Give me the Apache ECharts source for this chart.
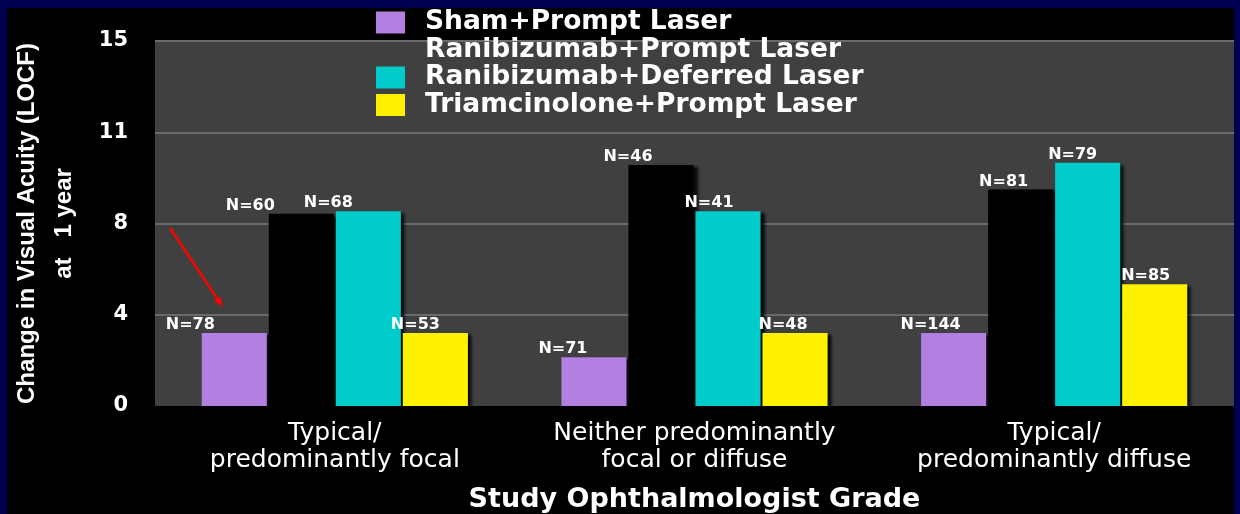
<!DOCTYPE html>
<html>
<head>
<meta charset="utf-8">
<script src="https://cdn.jsdelivr.net/npm/echarts@6/dist/echarts.min.js"></script>
<style>
  html, body { margin: 0; padding: 0; width: 1240px; height: 514px; background: #000050; overflow: hidden; }
  #c { position: absolute; left: 7px; top: 8px; width: 1227px; height: 506px; }
</style>
</head>
<body>
<div id="c"></div>
<script>
// ---- data ----
const categories = ['Typical/\npredominantly focal', 'Neither predominantly\nfocal or diffuse', 'Typical/\npredominantly diffuse'];
const seriesNames = ['Sham+Prompt Laser', 'Ranibizumab+Prompt Laser', 'Ranibizumab+Deferred Laser', 'Triamcinolone+Prompt Laser'];
const shamPrompt = [3.0, 2.0, 3.0];
const ranibizumabPrompt = [7.9, 9.9, 8.9];
const ranibizumabDeferred = [8.0, 8.0, 10.0];
const triamcinolonePrompt = [3.0, 3.0, 5.0];
const nShamPrompt = [78, 71, 144];
const nRanibizumabPrompt = [60, 46, 81];
const nRanibizumabDeferred = [68, 41, 79];
const nTriamcinolonePrompt = [53, 48, 85];
const yTickLabels = ['0', '4', '8', '11', '15'];
const yTitle = 'Change in Visual Acuity (LOCF)\nat   1 year';
const xTitle = 'Study Ophthalmologist Grade';

// ---- styling ----
const colors = ['#b37fe0', '#000000', '#00cccc', '#fff200'];
const labelNudgeX = [[-44, -31, -23], [-51, -33, -17], [-40, -19, -15], [-20, -12, -9]];
const values = [shamPrompt, ranibizumabPrompt, ranibizumabDeferred, triamcinolonePrompt];
const counts = [nShamPrompt, nRanibizumabPrompt, nRanibizumabDeferred, nTriamcinolonePrompt];

const chart = echarts.init(document.getElementById('c'), null, { renderer: 'canvas' });

const series = seriesNames.map((name, s) => ({
  name,
  type: 'bar',
  barCategoryGap: '26%',
  barGap: '3%',
  itemStyle: {
    color: colors[s],
    shadowColor: 'rgba(0,0,0,0.85)',
    shadowBlur: 3,
    shadowOffsetX: 4,
    shadowOffsetY: 2
  },
  emphasis: { disabled: true },
  data: values[s].map((v, i) => ({
    value: v,
    label: { offset: [labelNudgeX[s][i], 0] }
  })),
  label: {
    show: true,
    position: 'top',
    distance: 0,
    color: '#ffffff',
    fontFamily: 'DejaVu Sans',
    fontWeight: 'bold',
    fontSize: 16,
    formatter: (p) => 'N=' + counts[s][p.dataIndex]
  }
}));

const option = {
  backgroundColor: '#000000',
  animation: false,
  legend: {
    orient: 'vertical',
    left: 369,
    top: 1,
    padding: 0,
    itemWidth: 29,
    itemHeight: 22,
    itemGap: 0.5,
    selectedMode: false,
    icon: 'rect',
    textStyle: {
      color: '#ffffff',
      fontFamily: 'DejaVu Sans',
      fontWeight: 'bold',
      fontSize: 26.5,
      lineHeight: 22,
      padding: [0, 0, 0, 15]
    },
    data: seriesNames.map((n, i) => i === 1 ? { name: n, itemStyle: { color: 'rgba(0,0,0,0)', opacity: 0 } } : { name: n })
  },
  grid: {
    left: 148,
    top: 33,
    right: 0,
    bottom: 108,
    show: true,
    backgroundColor: '#404040',
    borderWidth: 0,
    containLabel: false,
    outerBoundsMode: 'none'
  },
  xAxis: {
    type: 'category',
    data: categories,
    axisLine: { show: false },
    axisTick: { show: false },
    axisLabel: {
      color: '#ffffff',
      fontFamily: 'DejaVu Sans',
      fontSize: 25,
      lineHeight: 27,
      margin: 14,
      interval: 0
    },
    name: xTitle,
    nameLocation: 'middle',
    nameGap: 80,
    nameMoveOverlap: false,
    nameTextStyle: {
      color: '#ffffff',
      fontFamily: 'DejaVu Sans',
      fontWeight: 'bold',
      fontSize: 27
    }
  },
  yAxis: {
    type: 'value',
    min: 0,
    max: 15,
    interval: 3.75,
    axisLine: { show: false },
    axisTick: { show: false },
    splitLine: { show: true, showMinLine: false, lineStyle: { color: '#6a6a6a', width: 2 } },
    axisLabel: {
      color: '#ffffff',
      fontFamily: 'DejaVu Sans',
      fontWeight: 'bold',
      fontSize: 21,
      margin: 27,
      formatter: (v, idx) => yTickLabels[idx]
    },
    name: yTitle,
    nameLocation: 'middle',
    nameRotate: 90,
    nameGap: 72,
    nameMoveOverlap: false,
    nameTextStyle: {
      color: '#ffffff',
      fontFamily: 'Liberation Sans',
      fontWeight: 'bold',
      fontSize: 24,
      lineHeight: 37,
      align: 'center'
    }
  },
  graphic: [
    {
      type: 'line',
      silent: true,
      shape: { x1: 163, y1: 220, x2: 210.2, y2: 290.6 },
      style: { stroke: '#ff0000', lineWidth: 2.5 },
      z: 100
    },
    {
      type: 'polygon',
      silent: true,
      shape: { points: [[215.7, 299], [206.9, 292.8], [213.5, 288.4]] },
      style: { fill: '#ff0000' },
      z: 100
    }
  ],
  series
};

chart.setOption(option);
</script>
</body>
</html>
